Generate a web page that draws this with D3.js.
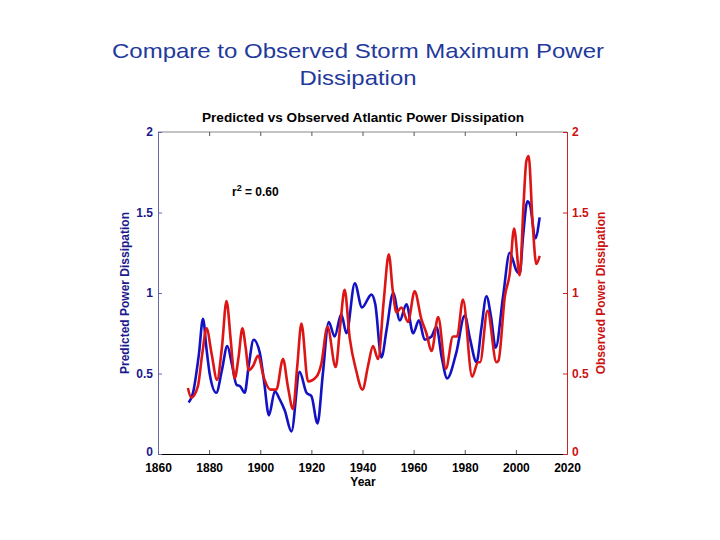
<!DOCTYPE html>
<html>
<head>
<meta charset="utf-8">
<script src="https://cdn.jsdelivr.net/npm/d3@7"></script>
<style>
  body { margin: 0; background: #fff; }
  text { font-family: "Liberation Sans", Arial, sans-serif; }
</style>
</head>
<body>
<script>
// Data
const predYears = [1872, 1873.7, 1876, 1877.6, 1879, 1880.2, 1882.8, 1885, 1887.1, 1889, 1890.7, 1892.2, 1893.9,
  1895.5, 1897.4, 1899.8, 1901.5, 1903.4, 1905.7, 1907.6, 1909.6, 1912.2, 1915.4, 1918.1, 1920, 1922.4, 1924.5,
  1926.8, 1929.1, 1931.7, 1933.7, 1937, 1939.8, 1943.5, 1945, 1947.4, 1949.5, 1952, 1954.6, 1957.2, 1959.8, 1962.1,
  1964.3, 1967, 1968.9, 1971, 1973.1, 1976.7, 1980, 1982, 1984.6, 1986.5, 1988.5, 1990.3, 1992.1, 1995, 1997.6,
  2000.2, 2001.5, 2002.8, 2004.5, 2005.5, 2007.6, 2009.3];
const predValues = [0.32, 0.38, 0.62, 0.84, 0.65, 0.50, 0.38, 0.52, 0.67, 0.55, 0.43, 0.42, 0.38,
  0.55, 0.71, 0.63, 0.45, 0.24, 0.39, 0.34, 0.27, 0.14, 0.51, 0.38, 0.36, 0.19, 0.50,
  0.82, 0.73, 0.87, 0.75, 1.06, 0.91, 0.99, 0.93, 0.60, 0.78, 1.00, 0.83, 0.93, 0.75, 0.83,
  0.71, 0.73, 0.79, 0.60, 0.47, 0.63, 0.86, 0.72, 0.57, 0.78, 0.98, 0.85, 0.66, 0.98, 1.25,
  1.14, 1.12, 1.35, 1.57, 1.55, 1.34, 1.47];

const obsYears = [1871.7, 1873, 1875.6, 1877.3, 1879, 1881, 1883.1, 1885, 1886.8, 1888.5, 1890, 1891.5, 1893,
  1894.3, 1895.5, 1897.3, 1899.1, 1901.5, 1904, 1906.3, 1908.9, 1910.8, 1912.8, 1914.5, 1916.1, 1918.7, 1922,
  1923.9, 1926.3, 1929.5, 1931.3, 1933, 1935, 1937.5, 1940, 1942.2, 1944.1, 1946.1, 1948.3, 1950.3, 1951.8,
  1953.3, 1955.2, 1957.8, 1960.4, 1963, 1965, 1967, 1969.6, 1972.6, 1975.4, 1977, 1979.3, 1982.9, 1985.2, 1986,
  1988.9, 1992.4, 1993.2, 1995.7, 1997.6, 1999.3, 2001.5, 2003, 2004.1, 2005, 2006.5, 2008, 2009.3];
const obsValues = [0.41, 0.35, 0.42, 0.62, 0.78, 0.62, 0.46, 0.66, 0.95, 0.70, 0.47, 0.60, 0.78,
  0.66, 0.52, 0.55, 0.61, 0.47, 0.40, 0.40, 0.59, 0.42, 0.28, 0.55, 0.81, 0.45, 0.48,
  0.56, 0.79, 0.54, 0.80, 1.02, 0.72, 0.52, 0.40, 0.55, 0.67, 0.59, 0.95, 1.24, 1.02,
  0.88, 0.91, 0.82, 1.01, 0.84, 0.75, 0.64, 0.85, 0.53, 0.73, 0.73, 0.96, 0.48, 0.57, 0.57,
  0.89, 0.57, 0.58, 0.98, 1.12, 1.40, 1.11, 1.55, 1.82, 1.85, 1.45, 1.18, 1.23];

const xTicks = [1860, 1880, 1900, 1920, 1940, 1960, 1980, 2000, 2020];
const yTicks = [0, 0.5, 1, 1.5, 2];
const rSquared = "0.60";

const W = 720, H = 540;
const plot = { left: 158, right: 567, top: 132, bottom: 454 };
const blue = "#1212c4", red = "#dd1515";
const font = "Liberation Sans, Arial, sans-serif";

const svg = d3.select("body").append("svg")
  .attr("width", W).attr("height", H);

const x = d3.scaleLinear().domain([1860, 2020]).range([plot.left, plot.right]);
const yL = d3.scaleLinear().domain([0, 2]).range([plot.bottom, plot.top]);
const yR = d3.scaleLinear().domain([0, 2]).range([plot.bottom, plot.top]);

// Slide title
svg.append("text")
  .attr("x", 358).attr("y", 58)
  .attr("text-anchor", "middle")
  .attr("font-size", 21)
  .attr("textLength", 492).attr("lengthAdjust", "spacingAndGlyphs")
  .attr("fill", "#1f3a9c")
  .text("Compare to Observed Storm Maximum Power");
svg.append("text")
  .attr("x", 358).attr("y", 85)
  .attr("text-anchor", "middle")
  .attr("font-size", 21)
  .attr("textLength", 117).attr("lengthAdjust", "spacingAndGlyphs")
  .attr("fill", "#1f3a9c")
  .text("Dissipation");

// Chart title
svg.append("text")
  .attr("x", 363).attr("y", 122)
  .attr("text-anchor", "middle")
  .attr("font-size", 13).attr("font-weight", "bold")
  .attr("textLength", 322).attr("lengthAdjust", "spacingAndGlyphs")
  .text("Predicted vs Observed Atlantic Power Dissipation");

// Frame: top
svg.append("line")
  .attr("x1", plot.left).attr("x2", plot.right)
  .attr("y1", plot.top).attr("y2", plot.top)
  .attr("stroke", "#888").attr("stroke-width", 1);

// Bottom axis
const xAxis = svg.append("g")
  .attr("transform", `translate(0,${plot.bottom})`)
  .call(d3.axisBottom(x).tickValues(xTicks).tickFormat(d3.format("d")).tickSizeInner(-4).tickSizeOuter(0));
xAxis.select(".domain").attr("stroke", "#000");
xAxis.selectAll(".tick line").attr("stroke", "#555");
xAxis.selectAll(".tick text")
  .attr("y", 9).attr("dy", "0.71em")
  .attr("font-size", 12).attr("font-weight", "bold")
  .attr("font-family", font)
  .attr("fill", "#000");

// Top ticks
svg.append("g")
  .attr("transform", `translate(0,${plot.top})`)
  .call(d3.axisTop(x).tickValues(xTicks).tickFormat("").tickSizeInner(-4).tickSizeOuter(0))
  .call(g => g.select(".domain").remove())
  .selectAll(".tick line").attr("stroke", "#555");

// Left axis
const leftAxis = svg.append("g")
  .attr("transform", `translate(${plot.left},0)`)
  .call(d3.axisLeft(yL).tickValues(yTicks).tickFormat(d => d3.format("")(d)).tickSizeInner(-4).tickSizeOuter(0));
leftAxis.select(".domain").attr("stroke", "#6666aa");
leftAxis.selectAll(".tick line").attr("stroke", "#6666aa");
leftAxis.selectAll(".tick text")
  .attr("x", -5)
  .attr("dy", d => d === 0 ? "0.1em" : "0.32em")
  .attr("font-size", 12).attr("font-weight", "bold")
  .attr("font-family", font)
  .attr("fill", "#1a1a8c");

// Right axis
const rightAxis = svg.append("g")
  .attr("transform", `translate(${plot.right},0)`)
  .call(d3.axisRight(yR).tickValues(yTicks).tickFormat(d => d3.format("")(d)).tickSizeInner(-4).tickSizeOuter(0));
rightAxis.select(".domain").attr("stroke", "#cc2222");
rightAxis.selectAll(".tick line").attr("stroke", "#cc2222");
rightAxis.selectAll(".tick text")
  .attr("x", 5)
  .attr("dy", d => d === 0 ? "0.1em" : "0.32em")
  .attr("font-size", 12).attr("font-weight", "bold")
  .attr("font-family", font)
  .attr("fill", "#cc1111");

// Axis titles
svg.append("text")
  .attr("x", 363).attr("y", 486)
  .attr("text-anchor", "middle")
  .attr("font-size", 12).attr("font-weight", "bold")
  .text("Year");

svg.append("text")
  .attr("transform", `translate(129,${(plot.top + plot.bottom) / 2}) rotate(-90)`)
  .attr("text-anchor", "middle")
  .attr("font-size", 12).attr("font-weight", "bold")
  .attr("fill", "#1a1a8c")
  .text("Predicted Power Dissipation");

svg.append("text")
  .attr("transform", `translate(605,${(plot.top + plot.bottom) / 2}) rotate(-90)`)
  .attr("text-anchor", "middle")
  .attr("font-size", 12).attr("font-weight", "bold")
  .attr("fill", "#cc1111")
  .text("Observed Power Dissipation");

// Lines
const predData = predYears.map((yr, i) => [yr, predValues[i]]);
const obsData = obsYears.map((yr, i) => [yr, obsValues[i]]);

const predLine = d3.line().x(d => x(d[0])).y(d => yL(d[1])).curve(d3.curveMonotoneX);
const obsLine = d3.line().x(d => x(d[0])).y(d => yR(d[1])).curve(d3.curveMonotoneX);

svg.append("path")
  .datum(predData)
  .attr("d", predLine)
  .attr("fill", "none")
  .attr("stroke", blue)
  .attr("stroke-width", 2.6)
  .attr("stroke-linejoin", "round");

svg.append("path")
  .datum(obsData)
  .attr("d", obsLine)
  .attr("fill", "none")
  .attr("stroke", red)
  .attr("stroke-width", 2.6)
  .attr("stroke-linejoin", "round");

// r^2 annotation
const rText = svg.append("text")
  .attr("x", 232).attr("y", 196)
  .attr("font-size", 12).attr("font-weight", "bold");
rText.append("tspan").text("r");
rText.append("tspan").attr("dy", -5).attr("font-size", 9).text("2");
rText.append("tspan").attr("dy", 5).text(" = " + rSquared);
</script>
</body>
</html>
